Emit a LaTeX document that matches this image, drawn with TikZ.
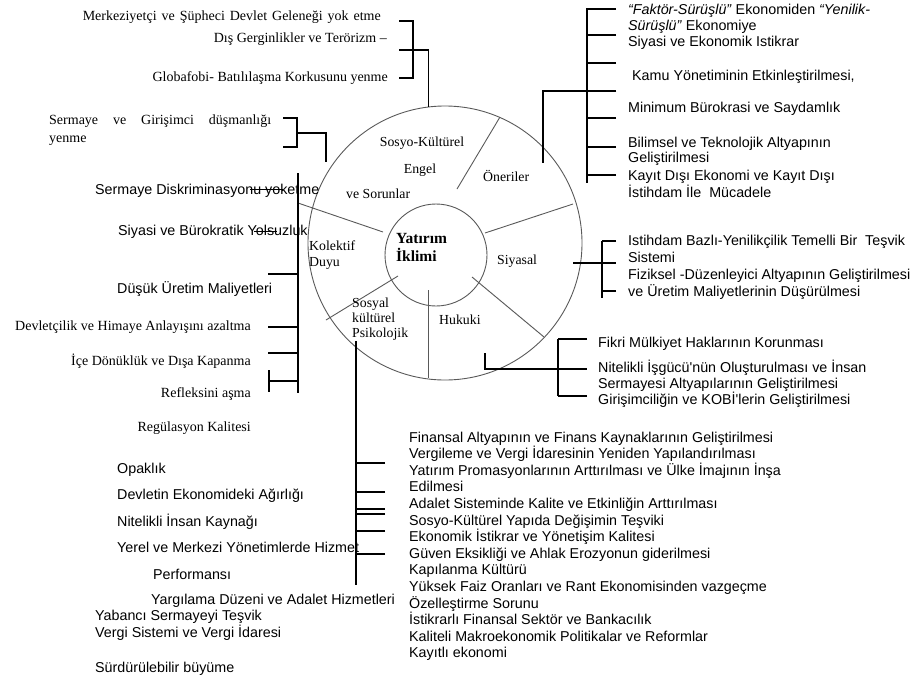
\documentclass[tikz,border=0pt]{standalone}
\usepackage{fontspec}
\setmainfont{Liberation Serif}
\newfontfamily\arialfont{Liberation Sans}
\usetikzlibrary{positioning,calc}
\tikzset{ser/.style={font=\fontsize{14}{16}\selectfont, inner sep=0pt, anchor=base east}}
\tikzset{sns/.style={font=\arialfont\fontsize{14.3}{16.6}\selectfont, inner sep=0pt, anchor=base west}}
\tikzset{inlbl/.style={font=\fontsize{13.8}{15}\selectfont, inner sep=0pt, anchor=base west}}
\tikzset{brk/.style={draw, line width=1.1pt}}
\tikzset{rim/.style={draw=black!65, line width=0.9pt}}

\begin{document}
\begin{tikzpicture}[x=1pt, y=-1pt]
\useasboundingbox (0,0) rectangle (919,678);

% wheel
\node[circle, rim, minimum size=274pt, inner sep=0pt] (outer) at (445,243) {};
\node[circle, rim, minimum size=102pt, inner sep=0pt] (inner) at (436,255) {};
\foreach \ax/\ay/\bx/\by [count=\i] in {457/189/500/117, 485/233/573/204, 472/277/544/337,
        428/290/428/378, 398/276/326/320, 383/232/298/203} {
    \coordinate (sp\i a) at (\ax,\ay);
    \coordinate (sp\i b) at (\bx,\by);
    \draw[rim] (sp\i a) -- (sp\i b);
}

\node[inlbl, anchor=base] (sk) at (422,146) {Sosyo-Kültürel};
\node[inlbl, anchor=base] (eng) at (420,173) {Engel};
\node[inlbl] (vs) at (346,198) {ve Sorunlar};
\node[inlbl] (oner) at (483,181) {Öneriler};
\node[inlbl, font=\bfseries\fontsize{15.5}{18}\selectfont] (yat) at (396,243) {Yatırım};
\node[inlbl, font=\bfseries\fontsize{15.5}{18}\selectfont] (ikl) at (396,261) {İklimi};
\node[inlbl] (kol) at (309,250) {Kolektif};
\node[inlbl] (duy) at (309,266) {Duyu};
\node[inlbl] (siy) at (497,264) {Siyasal};
\node[inlbl] (huk) at (439,324) {Hukuki};
\node[inlbl] (sos) at (352,307) {Sosyal};
\node[inlbl] (kul) at (352,322) {kültürel};
\node[inlbl] (psi) at (352,337) {Psikolojik};

% top left
\node[ser] (m1) at (381,20) {\makebox[298pt][s]{Merkeziyetçi ve Şüpheci Devlet Geleneği yok etme}};
\node[ser] (m2) at (387,42) {Dış Gerginlikler ve Terörizm –};
\node[ser] (m3) at (388,81) {Globafobi- Batılılaşma Korkusunu yenme};
\node[ser, anchor=base west] (sg1) at (49,124) {\makebox[222pt][s]{Sermaye ve Girişimci düşmanlığı}};
\node[ser, anchor=base west] (sg2) at (49,142) {yenme};

% left column
\node[sns] (sd) at (95,194) {Sermaye Diskriminasyonu yoketme};
\node[sns] (sb) at (118,235) {Siyasi ve Bürokratik Yolsuzluk};
\node[sns] (du) at (117,293) {Düşük Üretim Maliyetleri};
\node[ser] (dev) at (251,330) {Devletçilik ve Himaye Anlayışını azaltma};
\node[ser] (ice) at (251,365) {İçe Dönüklük ve Dışa Kapanma};
\node[ser] (ref) at (251,397) {Refleksini aşma};
\node[ser] (reg) at (251,431) {Regülasyon Kalitesi};

% bottom left
\node[sns] (opk) at (117,473) {Opaklık};
\node[sns] (dea) at (117,499) {Devletin Ekonomideki Ağırlığı};
\node[sns] (nik) at (117,526) {Nitelikli İnsan Kaynağı};
\node[sns] (ymy) at (117,552) {Yerel ve Merkezi Yönetimlerde Hizmet};
\node[sns] (prf) at (153,579) {Performansı};
\node[sns] (yda) at (151,604) {Yargılama Düzeni ve Adalet Hizmetleri};
\node[sns] (yst) at (95,620) {Yabancı Sermayeyi Teşvik};
\node[sns] (vsv) at (95,637) {Vergi Sistemi ve Vergi İdaresi};
\node[sns] (sdb) at (95,672) {Sürdürülebilir büyüme};

% top right
\node[sns] (fs1) at (628,14) {\textit{“Faktör-Sürüşlü”} Ekonomiden \textit{“Yenilik-}};
\node[sns] (fs2) at (628,30) {\textit{Sürüşlü”} Ekonomiye};
\node[sns] (sei) at (628,46) {Siyasi ve Ekonomik Istikrar};
\node[sns] (kam) at (632,80) {Kamu Yönetiminin Etkinleştirilmesi,};
\node[sns] (mnb) at (628,112) {Minimum Bürokrasi ve Saydamlık};
\node[sns] (bil1) at (628,147) {Bilimsel ve Teknolojik Altyapının};
\node[sns] (bil2) at (628,162) {Geliştirilmesi};
\node[sns] (kd1) at (628,180) {Kayıt Dışı Ekonomi ve Kayıt Dışı};
\node[sns] (kd2) at (628,197) {İstihdam İle\ \ Mücadele};

% right middle
\node[sns] (ist1) at (628,245) {Istihdam Bazlı-Yenilikçilik Temelli Bir\ \ Teşvik};
\node[sns] (ist2) at (628,262) {Sistemi};
\node[sns] (fiz1) at (628,279) {Fiziksel -Düzenleyici Altyapının Geliştirilmesi};
\node[sns] (fiz2) at (628,296) {ve Üretim Maliyetlerinin Düşürülmesi};

% lower right
\node[sns] (fik) at (598,347) {Fikri Mülkiyet Haklarının Korunması};
\node[sns] (nit1) at (598,372) {Nitelikli İşgücü'nün Oluşturulması ve İnsan};
\node[sns] (nit2) at (598,388) {Sermayesi Altyapılarının Geliştirilmesi};
\node[sns] (gir) at (598,404) {Girişimciliğin ve KOBİ'lerin Geliştirilmesi};

% bottom list
\foreach \t [count=\i] in {Finansal Altyapının ve Finans Kaynaklarının Geliştirilmesi,
        Vergileme ve Vergi İdaresinin Yeniden Yapılandırılması,
        Yatırım Promasyonlarının Arttırılması ve Ülke İmajının İnşa,
        Edilmesi,
        Adalet Sisteminde Kalite ve Etkinliğin Arttırılması,
        Sosyo-Kültürel Yapıda Değişimin Teşviki,
        Ekonomik İstikrar ve Yönetişim Kalitesi,
        Güven Eksikliği ve Ahlak Erozyonun giderilmesi,
        Kapılanma Kültürü,
        Yüksek Faiz Oranları ve Rant Ekonomisinden vazgeçme,
        Özelleştirme Sorunu,
        İstikrarlı Finansal Sektör ve Bankacılık,
        Kaliteli Makroekonomik Politikalar ve Reformlar,
        Kayıtlı ekonomi}
    \node[sns] (br\i) at (409,442+16.6*\i-16.6) {\t};

% brackets
\coordinate (tl1) at (399,21);
\coordinate (tl2) at (399,50);
\coordinate (tl3) at (399,78);
\draw[brk] (tl1) -- ++(14,0) |- (tl3);
\draw[brk] (tl2) -| (outer.97);

\coordinate (sgt1) at (283,118);
\coordinate (sgt2) at (283,147);
\coordinate (sgm) at (297,133);
\coordinate (sge) at (326,162);
\draw[brk] (sgt1) -- ++(14,0) |- (sgt2);
\draw[brk] (sgm) -| (sge);

\coordinate (lc1) at (298,173);
\coordinate (lc2) at (298,393);
\draw[brk] (lc1) -- (lc2);
\foreach \y [count=\i] in {274,327,353,381} {
    \coordinate (lt\i) at (268,\y);
    \draw[brk] (lt\i) -- (lt\i -| lc1);
}
\coordinate (lk1) at (269,370);
\coordinate (lk2) at (269,392);
\draw[brk, line width=2.2pt] (lk1) -- (lk2);
\coordinate (st1) at (250,189);
\coordinate (st2) at (254,231);
\draw[brk, line width=0.9pt] (st1) -- ++(33,0);
\draw[brk, line width=0.9pt] (st2) -- ++(23,0);

\coordinate (tr1) at (587,8);
\coordinate (tr2) at (587,183);
\draw[brk] (tr1) -- (tr2);
\foreach \y [count=\i] in {9,35,63,91,118,147,175} {
    \coordinate (rt\i) at (616,\y);
    \draw[brk] (rt\i) -- (rt\i -| tr1);
}
\coordinate (trc) at (543,163);
\draw[brk] (rt4) -| (trc);

\coordinate (rm1) at (602,241);
\coordinate (rm2) at (602,298);
\coordinate (rm3) at (616,241);
\coordinate (rm4) at (616,291);
\coordinate (rmc) at (573,263);
\draw[brk] (rm1) -- (rm2);
\draw[brk] (rm3) -- (rm3 -| rm1);
\draw[brk] (rm4) -- (rm4 -| rm1);
\draw[brk] (rmc) -- ++(43,0);

\coordinate (lr1) at (558,339);
\coordinate (lr2) at (558,396);
\coordinate (lr3) at (587,339);
\coordinate (lr4) at (587,396);
\coordinate (lrc) at (485,353);
\coordinate (lre) at (587,369);
\draw[brk] (lr1) -- (lr2);
\draw[brk] (lr3) -- (lr3 -| lr1);
\draw[brk] (lr4) -- (lr4 -| lr1);
\draw[brk] (lrc) |- (lre);

\coordinate (bt0) at (356,341);
\coordinate (btz) at (356,585);
\draw[brk] (bt0) -- (btz);
\foreach \y [count=\i] in {463,492,509,514,531,554} {
    \coordinate (bt\i) at (385,\y);
    \draw[brk] (bt\i) -- (bt\i -| bt0);
}
\end{tikzpicture}
\end{document}
